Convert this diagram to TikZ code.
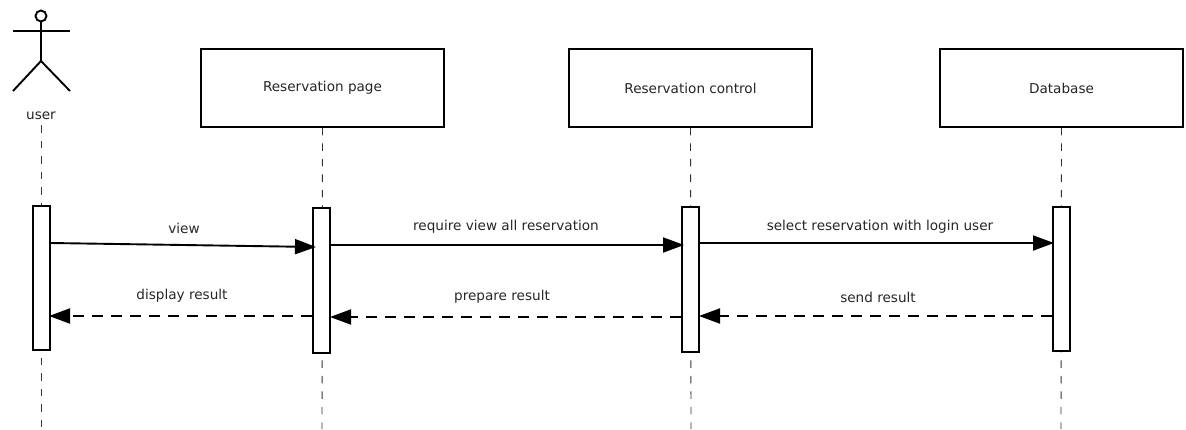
\documentclass[tikz,border=0pt]{standalone}
\usepackage{fontspec}
\setmainfont{DejaVu Sans}
\usetikzlibrary{arrows.meta}
\tikzset{
  objbox/.style={draw=black,fill=white,line width=1.9pt,minimum width=243pt,minimum height=78pt,inner sep=0pt,font=\fontsize{13.6}{16}\selectfont,text=black!85},
  actbar/.style={draw=black,fill=white,line width=1.8pt,minimum width=17pt,inner sep=0pt},
  lifeline/.style={draw=black!80,line width=0.9pt,dash pattern=on 7.5pt off 8pt},
  msg/.style={line width=1.9pt,-{Triangle[length=21pt,width=15pt]}},
  ret/.style={line width=1.9pt,dash pattern=on 11pt off 8pt,-{Triangle[length=21pt,width=15pt]}},
  lbl/.style={font=\fontsize{13.6}{16}\selectfont,text=black!85,inner sep=0pt},
  stick/.style={line width=1.9pt,draw=black}
}
\begin{document}
\begin{tikzpicture}[x=1pt,y=-1pt]
\useasboundingbox (0,0) rectangle (1186,429);
% objects
\node[objbox] (page) at (322.5,88) {Reservation page};
\node[objbox] (control) at (690.5,88) {Reservation control};
\node[objbox] (db) at (1061.5,88) {Database};
% actor
\node[draw=black,line width=1.9pt,circle,minimum size=11pt,inner sep=0pt] (head) at (41,16) {};
\coordinate (hip) at (41,61);
\coordinate (armL) at (13,31);
\coordinate (armR) at (70,31);
\coordinate (legL) at (13,91);
\coordinate (legR) at (70,91);
\draw[stick] (head.south) -- (hip);
\draw[stick] (armL) -- (armR);
\draw[stick] (legL) -- (hip) -- (legR);
\node[lbl] (user) at (41,116) {user};
% coordinates for lifeline ends
\coordinate (e1) at (41.5,429);
\coordinate (e2) at (322,429);
\coordinate (e3) at (691,429);
\coordinate (e4) at (1061,429);
\coordinate (s1) at (41.5,125);
% lifelines
\draw[lifeline] (s1) -- (e1);
\draw[lifeline] (page.south) -- (e2);
\draw[lifeline] (control.south) -- (e3);
\draw[lifeline] (db.south) -- (e4);
% activations
\node[actbar,minimum height=144pt] (a1) at (41.5,278) {};
\node[actbar,minimum height=145pt] (a2) at (321.5,280.5) {};
\node[actbar,minimum height=145pt] (a3) at (690.5,279.5) {};
\node[actbar,minimum height=144pt] (a4) at (1061.5,279) {};
% message anchor points
\coordinate (m1s) at (a1.east |- 0,243);
\coordinate (m1e) at (316,247);
\coordinate (m2s) at (a2.east |- 0,245);
\coordinate (m2e) at (684,245);
\coordinate (m3s) at (a3.east |- 0,243);
\coordinate (m3e) at (1054,243);
\coordinate (r1s) at (a2.west |- 0,316);
\coordinate (r1e) at (49,316);
\coordinate (r2s) at (a3.west |- 0,317);
\coordinate (r2e) at (330,317);
\coordinate (r3s) at (a4.west |- 0,316);
\coordinate (r3e) at (699,316);
% messages
\draw[msg] (m1s) -- (m1e);
\draw[msg] (m2s) -- (m2e);
\draw[msg] (m3s) -- (m3e);
\draw[ret] (r1s) -- (r1e);
\draw[ret] (r2s) -- (r2e);
\draw[ret] (r3s) -- (r3e);
% labels
\node[lbl] (lview) at (184,228) {view};
\node[lbl] (lreq) at (506,227) {require view all reservation};
\node[lbl] (lsel) at (880,227) {select reservation with login user};
\node[lbl] (ldisp) at (182,296) {display result};
\node[lbl] (lprep) at (502,297) {prepare result};
\node[lbl] (lsend) at (878,297) {send result};
\end{tikzpicture}
\end{document}
